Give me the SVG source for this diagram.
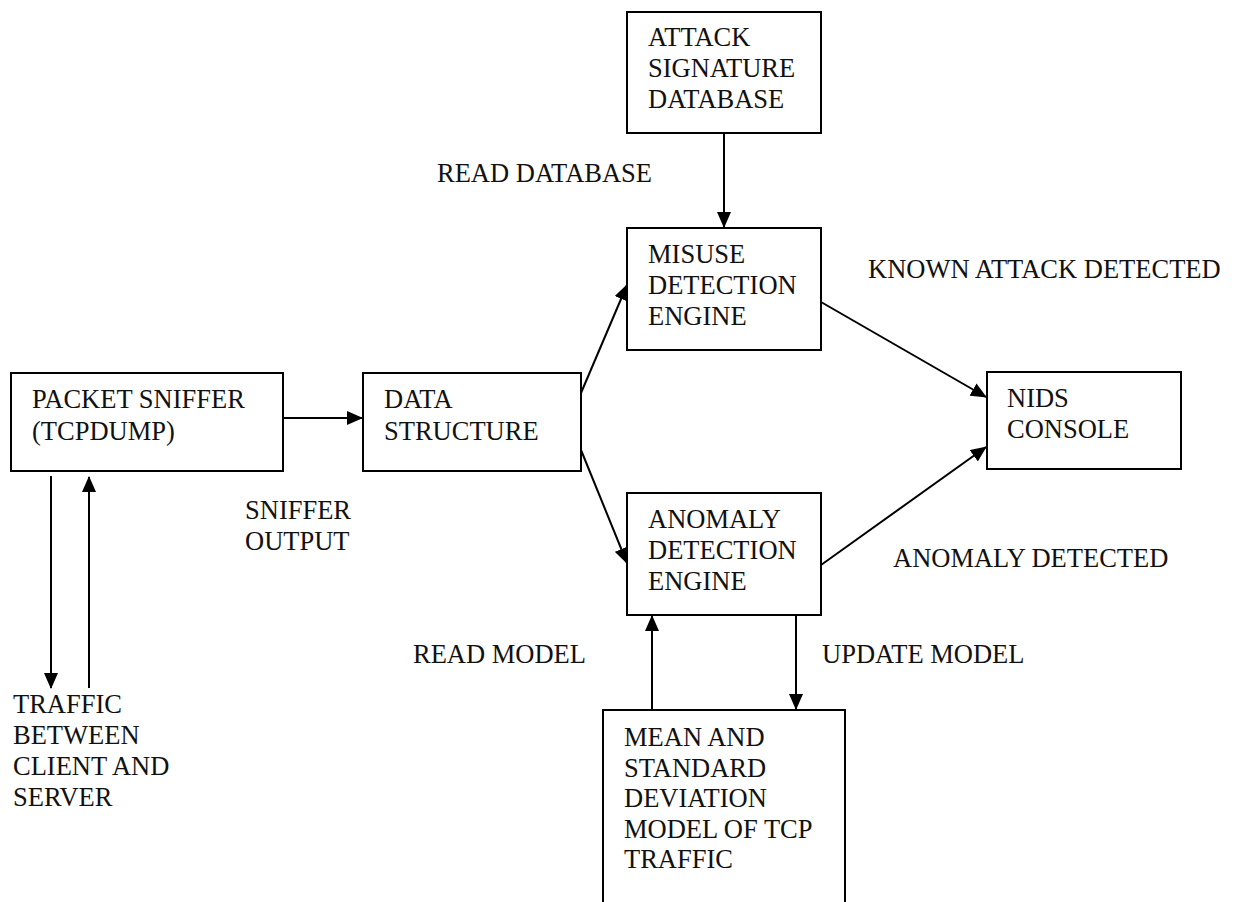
<svg xmlns="http://www.w3.org/2000/svg" width="1234" height="902" viewBox="0 0 1234 902">
<style>
.box{fill:#fff;stroke:#000;stroke-width:2}
.t{font-family:"Liberation Serif","Times New Roman",serif;font-size:26.5px;fill:#111}
.c{stroke:#000;stroke-width:2;fill:none}
</style>
<defs>
<marker id="ah" markerUnits="userSpaceOnUse" markerWidth="16" markerHeight="14" viewBox="0 0 16 14" refX="15" refY="7" orient="auto">
<path d="M0,0 L16,7 L0,14 Z" fill="#000"/>
</marker>
</defs>
<rect width="1234" height="902" fill="#fff"/>
<g id="connectors">
<line class="c" x1="283" y1="418" x2="362" y2="418" marker-end="url(#ah)"/>
<line class="c" x1="51" y1="476" x2="51" y2="688" marker-end="url(#ah)"/>
<line class="c" x1="89" y1="688" x2="89" y2="477" marker-end="url(#ah)"/>
<line class="c" x1="724" y1="133" x2="724" y2="227" marker-end="url(#ah)"/>
<line class="c" x1="581" y1="393" x2="627" y2="285" marker-end="url(#ah)"/>
<line class="c" x1="581" y1="450" x2="627" y2="563" marker-end="url(#ah)"/>
<line class="c" x1="821" y1="302" x2="986" y2="397" marker-end="url(#ah)"/>
<line class="c" x1="821" y1="565" x2="986" y2="447" marker-end="url(#ah)"/>
<line class="c" x1="652" y1="710" x2="652" y2="616" marker-end="url(#ah)"/>
<line class="c" x1="796" y1="615" x2="796" y2="709" marker-end="url(#ah)"/>
</g>
<g id="packet-sniffer">
<rect class="box" x="11" y="373" width="272" height="98"/>
<text class="t" x="32" y="408">PACKET SNIFFER</text>
<text class="t" x="32" y="440">(TCPDUMP)</text>
</g>
<g id="data-structure">
<rect class="box" x="363" y="373" width="218" height="98"/>
<text class="t" x="384" y="408">DATA</text>
<text class="t" x="384" y="440">STRUCTURE</text>
</g>
<g id="attack-signature-database">
<rect class="box" x="627" y="12" width="194" height="121"/>
<text class="t" x="648" y="46">ATTACK</text>
<text class="t" x="648" y="77">SIGNATURE</text>
<text class="t" x="648" y="108">DATABASE</text>
</g>
<g id="misuse-detection-engine">
<rect class="box" x="627" y="228" width="194" height="122"/>
<text class="t" x="648" y="263">MISUSE</text>
<text class="t" x="648" y="294">DETECTION</text>
<text class="t" x="648" y="325">ENGINE</text>
</g>
<g id="anomaly-detection-engine">
<rect class="box" x="627" y="493" width="194" height="122"/>
<text class="t" x="648" y="528">ANOMALY</text>
<text class="t" x="648" y="559">DETECTION</text>
<text class="t" x="648" y="590">ENGINE</text>
</g>
<g id="nids-console">
<rect class="box" x="987" y="372" width="194" height="97"/>
<text class="t" x="1007" y="407">NIDS</text>
<text class="t" x="1007" y="438">CONSOLE</text>
</g>
<g id="mean-std-model">
<rect class="box" x="603" y="710" width="242" height="200"/>
<text class="t" x="624" y="746">MEAN AND</text>
<text class="t" x="624" y="776.5">STANDARD</text>
<text class="t" x="624" y="807">DEVIATION</text>
<text class="t" x="624" y="837.5">MODEL OF TCP</text>
<text class="t" x="624" y="868">TRAFFIC</text>
</g>
<g id="labels">
<text class="t" x="437" y="182">READ DATABASE</text>
<text class="t" x="868" y="278">KNOWN ATTACK DETECTED</text>
<text class="t" x="245" y="519">SNIFFER</text>
<text class="t" x="245" y="550">OUTPUT</text>
<text class="t" x="893" y="567">ANOMALY DETECTED</text>
<text class="t" x="413" y="663">READ MODEL</text>
<text class="t" x="822" y="663">UPDATE MODEL</text>
<text class="t" x="13" y="713">TRAFFIC</text>
<text class="t" x="13" y="744">BETWEEN</text>
<text class="t" x="13" y="775">CLIENT AND</text>
<text class="t" x="13" y="806">SERVER</text>
</g>
</svg>
